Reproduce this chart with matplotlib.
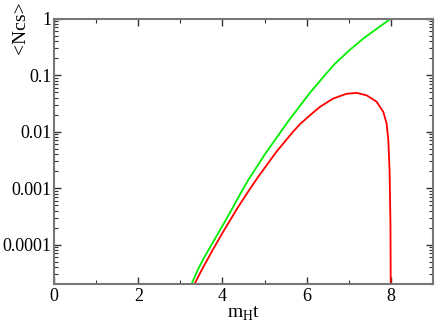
import matplotlib
matplotlib.use("Agg")
import matplotlib.pyplot as plt
from matplotlib.ticker import FixedLocator, FuncFormatter, LogLocator, MultipleLocator

# green curve: t values and log10(<Ncs>)
green_t = [3.10, 3.26, 3.40, 3.55, 3.75, 4.00, 4.22, 4.44, 4.61, 5.01, 5.35, 5.54,
           6.06, 6.41, 6.67, 7.03, 7.35, 7.70, 8.00]
green_log = [-5.20, -4.71, -4.47, -4.25, -3.99, -3.67, -3.38, -3.08, -2.86, -2.40,
             -2.04, -1.84, -1.33, -1.02, -0.80, -0.55, -0.35, -0.16, 0.00]

# red curve
red_t = [3.18, 3.33, 3.50, 3.75, 4.02, 4.36, 4.64, 4.85, 5.29, 5.68, 5.84, 6.08, 6.32,
         6.63, 6.95, 7.19, 7.43, 7.66, 7.82, 7.90, 7.94, 7.97, 7.99, 8.00]
red_log = [-5.20, -4.71, -4.46, -4.12, -3.77, -3.35, -3.03, -2.80, -2.35, -2.00, -1.87,
           -1.71, -1.56, -1.415, -1.33, -1.315, -1.36, -1.47, -1.65, -1.86, -2.15,
           -2.70, -3.60, -5.20]

y_ticks = [1e-4, 1e-3, 1e-2, 1e-1, 1]
y_tick_labels = ["0.0001", "0.001", "0.01", "0.1", "1"]
x_ticks = [0, 2, 4, 6, 8]

plt.rcParams['font.family'] = ['Liberation Serif', 'DejaVu Serif']

fig = plt.figure(figsize=(4.36, 3.27), dpi=100)
ax = fig.add_axes([0.124, 0.1315, 0.869, 0.8115])

ax.plot(green_t, [10 ** v for v in green_log], color="#00ee00", lw=1.3)
ax.plot(red_t, [10 ** v for v in red_log], color="#ff0000", lw=1.3)

ax.set_yscale("log")
ax.set_xlim(0, 9)
ax.set_ylim(2e-5, 1)


def ylab(v, p):
    for t, lab in zip(y_ticks, y_tick_labels):
        if abs(v / t - 1) < 1e-6:
            return lab
    return ""


ax.xaxis.set_major_locator(FixedLocator(x_ticks))
ax.xaxis.set_minor_locator(MultipleLocator(1))
ax.yaxis.set_major_locator(FixedLocator(y_ticks))
ax.yaxis.set_major_formatter(FuncFormatter(ylab))
ax.yaxis.set_minor_locator(LogLocator(base=10, subs=range(2, 10), numticks=20))
ax.yaxis.set_minor_formatter(FuncFormatter(lambda v, p: ""))

ax.tick_params(which="both", direction="in", top=True, right=True, labelsize=13,
               color="#333333")
ax.tick_params(which="major", length=5, width=1)
ax.tick_params(which="minor", length=3, width=0.8)
ax.tick_params(axis="x", which="major", pad=3)
ax.tick_params(axis="y", which="major", pad=2)

for s in ax.spines.values():
    s.set_color("#777777")
    s.set_linewidth(1.5)

ax.set_xlabel(r"m$_{\mathregular{H}}$t", fontsize=14, labelpad=0)
fig.text(21 / 436, 1 - 28 / 327, "<Ncs>", rotation=90, ha="center", va="center",
         fontsize=14)

fig.savefig("out.png", dpi=100)
